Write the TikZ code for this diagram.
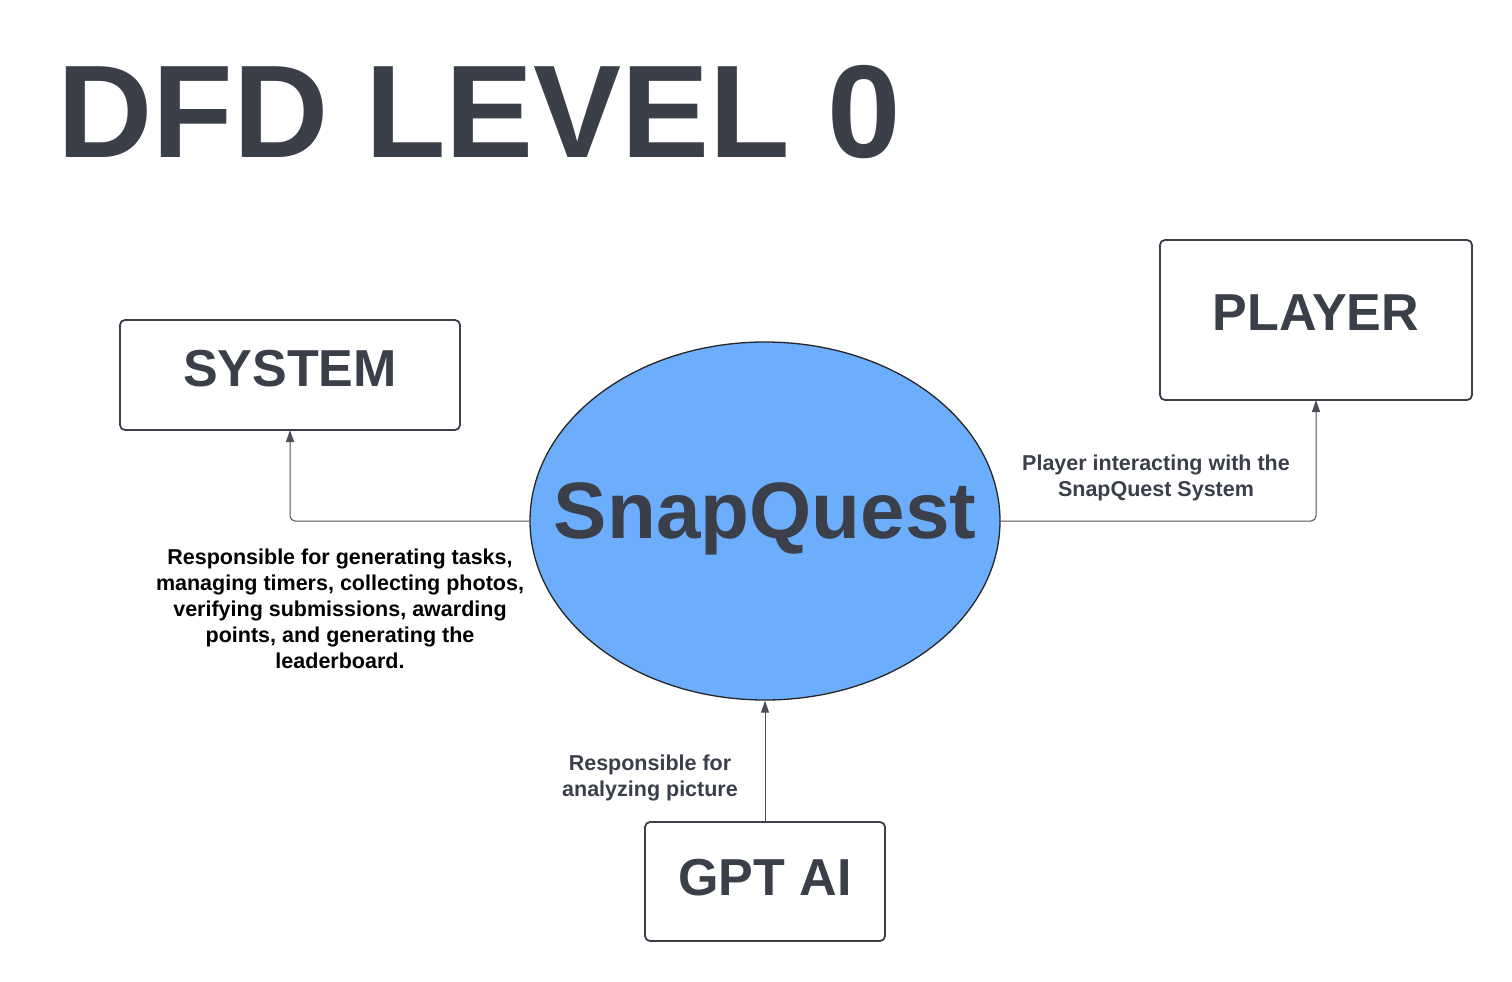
\documentclass[tikz,border=0pt]{standalone}
\usepackage{fontspec}
\setmainfont{Liberation Sans}
\usetikzlibrary{arrows.meta,shapes.geometric}
\definecolor{ink}{HTML}{3A3F4A}
\definecolor{line}{HTML}{4A4F57}
\definecolor{bubble}{HTML}{6CAEFC}
\tikzset{
  entity/.style={draw=ink, line width=1.8pt, rounded corners=5pt, fill=white},
  flow/.style={draw=line, line width=1pt, rounded corners=5pt, -{Triangle[length=12pt,width=8pt]}},
  lbl/.style={font=\fontsize{21.5}{26}\selectfont\bfseries, align=center, text=ink, inner sep=0pt},
  boxlbl/.style={font=\fontsize{52}{60}\selectfont\bfseries, text=ink, inner sep=0pt}
}
\begin{document}
\begin{tikzpicture}[x=1pt,y=-1pt]
\useasboundingbox (0,0) rectangle (1512,982);
% title
\node[font=\fontsize{132}{140}\selectfont\bfseries, text=ink, anchor=base west, inner sep=0pt] (title) at (57,157) {DFD LEVEL 0};
% boxes
\draw[entity] (120,320) rectangle (460,430);
\coordinate (sysb) at (290,430);
\node[boxlbl, anchor=base] (syst) at (290,386) {SYSTEM};
\draw[entity] (1160,240) rectangle (1472,400);
\coordinate (plyb) at (1316,400);
\node[boxlbl, anchor=base] (plyt) at (1316,330) {PLAYER};
\draw[entity] (645,822) rectangle (885,941);
\coordinate (gptt) at (765,822);
\node[boxlbl, anchor=base] (gptl) at (765,895) {GPT AI};
% process
\node[ellipse, draw=black!85, line width=1.3pt, fill=bubble, minimum width=470pt, minimum height=358pt, inner sep=0pt] (sq) at (765,521) {};
\node[font=\fontsize{80}{90}\selectfont\bfseries, text=ink, anchor=base, inner sep=0pt] (sqt) at (765,538) {SnapQuest};
% flows
\draw[flow] (sq.west) -| (sysb);
\draw[flow] (sq.east) -| (plyb);
\draw[flow] (gptt) -- (sq.south);
% labels
\node[lbl, text=black, anchor=north] (l1) at (340,549) {Responsible for generating tasks,\\managing timers, collecting photos,\\verifying submissions, awarding\\points, and generating the\\leaderboard.};
\node[lbl, anchor=north] (l2) at (1156,455) {Player interacting with the\\SnapQuest System};
\node[lbl, anchor=north] (l3) at (650,755) {Responsible for\\analyzing picture};
\end{tikzpicture}
\end{document}
